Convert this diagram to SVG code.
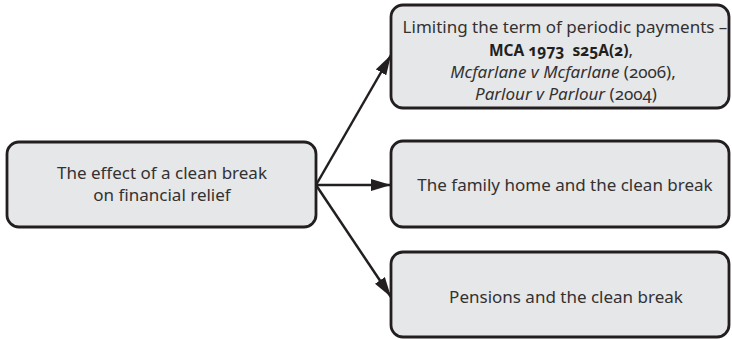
<svg xmlns="http://www.w3.org/2000/svg" width="732" height="339" viewBox="0 0 732 339">
  <style>
    .box { fill: #e6e7e8; stroke: #231f20; stroke-width: 2.8; }
    .lbl { font-family: "Noto Sans", "Open Sans", sans-serif; font-size: 17px; fill: #333132; text-anchor: middle; font-variant-numeric: oldstyle-nums; }
    .b { font-weight: bold; fill: #231f20; font-size: 15.5px; }
    .i { font-style: italic; }
    .conn { stroke: #231f20; stroke-width: 2.5; fill: none; marker-end: url(#arrow); }
  </style>
  <defs>
    <marker id="arrow" viewBox="0 0 20 12" refX="20" refY="6" markerWidth="20" markerHeight="12" markerUnits="userSpaceOnUse" orient="auto">
      <path d="M0,0 L20,6 L0,12 z" fill="#231f20"/>
    </marker>
  </defs>

  <g id="connectors">
    <line class="conn" x1="316" y1="185" x2="391" y2="55"/>
    <line class="conn" x1="316" y1="185" x2="391" y2="185"/>
    <line class="conn" x1="316" y1="185" x2="391" y2="297"/>
  </g>

  <g id="node-clean-break">
    <rect class="box" x="7" y="142" width="309" height="85" rx="12"/>
    <text class="lbl" x="162" y="179">The effect of a clean break</text>
    <text class="lbl" x="162" y="201">on financial relief</text>
  </g>

  <g id="node-periodic-payments">
    <rect class="box" x="391" y="5" width="338" height="103" rx="12"/>
    <text class="lbl" x="565" y="33">Limiting the term of periodic payments –</text>
    <text class="lbl" x="561" y="56" xml:space="preserve"><tspan class="b">MCA 1973  s25A(2)</tspan>,</text>
    <text class="lbl" x="563" y="78"><tspan class="i">Mcfarlane v Mcfarlane</tspan> (2006),</text>
    <text class="lbl" x="566" y="100"><tspan class="i">Parlour v Parlour</tspan> (2004)</text>
  </g>

  <g id="node-family-home">
    <rect class="box" x="391" y="141" width="338" height="86" rx="12"/>
    <text class="lbl" x="565" y="191">The family home and the clean break</text>
  </g>

  <g id="node-pensions">
    <rect class="box" x="391" y="252" width="338" height="85" rx="12"/>
    <text class="lbl" x="566" y="303">Pensions and the clean break</text>
  </g>
</svg>
